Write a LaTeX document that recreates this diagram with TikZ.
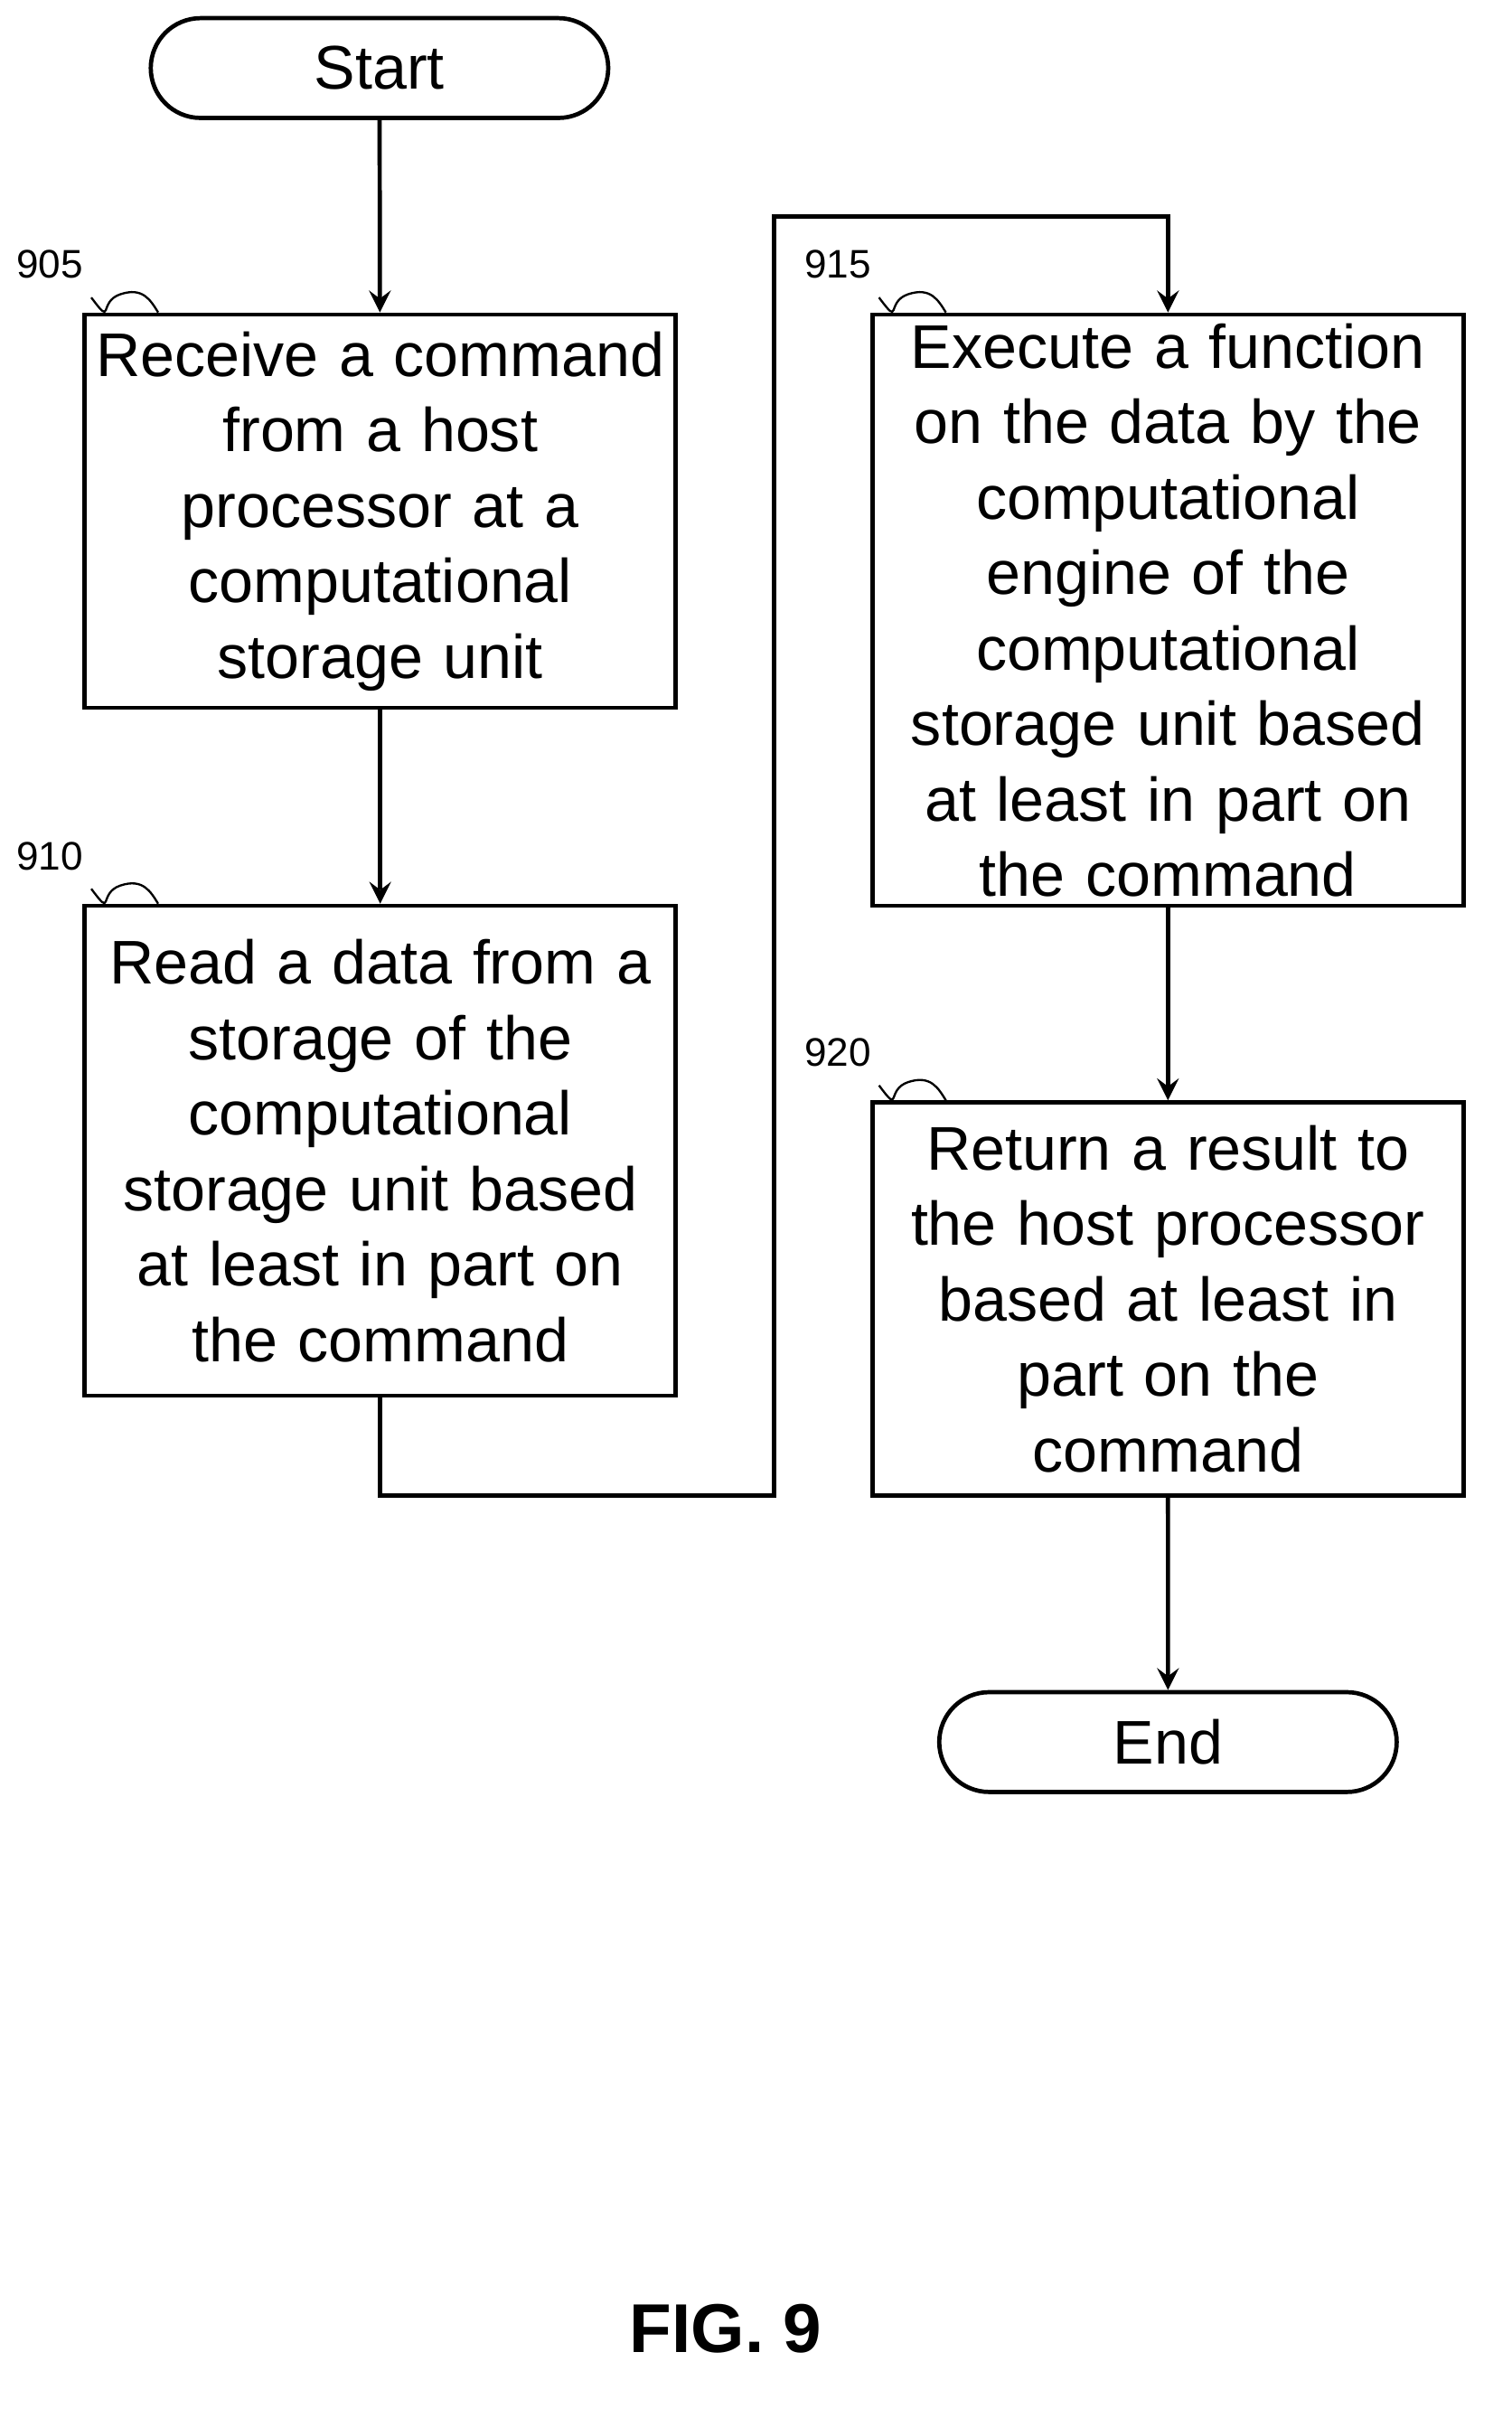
\documentclass[tikz,border=0pt]{standalone}
\usepackage{fontspec}
\setmainfont{Liberation Sans}
\usetikzlibrary{positioning}
\usetikzlibrary{arrows}
\usetikzlibrary{shapes.misc}

\begin{document}
\begin{tikzpicture}[>=stealth,font=\fontsize{11.6}{14.2}\selectfont,
    action/.style={draw,thick,minimum width=3.91cm,text width=3.8cm,align=center,inner sep=1pt},
    term/.style={draw,thick,rounded rectangle,minimum width=3.26cm,minimum height=0.66cm},
    ref/.style={font=\fontsize{7.5}{9}\selectfont}]
    \useasboundingbox (0,0) rectangle (10,-15.99);
    \node[term] (S) at (2.51,-0.45) {Start};
    \node[action,minimum height=2.6cm] (A) at (2.515,-3.38) {Receive a command\\from a host\\processor at a\\computational\\storage unit};
    \node[action,minimum height=3.24cm] (B) at (2.515,-7.61) {Read a data from a\\storage of the\\computational\\storage unit based\\at least in part on\\the command};
    \node[action,minimum height=3.91cm] (C) at (7.725,-4.035) {Execute a function\\on the data by the\\computational\\engine of the\\computational\\storage unit based\\at least in part on\\the command};
    \node[action,minimum height=2.6cm] (D) at (7.725,-8.59) {Return a result to\\the host processor\\based at least in\\part on the\\command};
    \node[term] (E) at (7.725,-11.52) {End};
    \node[font=\bfseries\fontsize{13}{16}\selectfont] (F) at (4.8,-15.4) {FIG. 9};

    % reference numerals
    \node[ref] (n905) at (0.33,-1.75) {905};
    \node[ref] (n910) at (0.33,-5.66) {910};
    \node[ref] (n915) at (5.54,-1.75) {915};
    \node[ref] (n920) at (5.54,-6.96) {920};
    \foreach \n/\b in {n905/A,n910/B,n915/C,n920/D}
        \draw ([xshift=-2pt]\n.south east) .. controls +(0.15,-0.2) and +(-0.15,-0.05) .. ([xshift=0.25cm,yshift=0.12cm]\b.north west)
              .. controls +(0.15,0.05) and +(-0.05,0.08) .. ([xshift=0.5cm]\b.north west);

    \coordinate (k1) at (2.515,-9.89);
    \coordinate (k2) at (5.12,-9.89);
    \coordinate (k3) at (5.12,-1.43);
    \coordinate (k4) at (7.725,-1.43);
    \draw[thick,->] (S) -- (A);
    \draw[thick,->] (A) -- (B);
    \draw[thick,->] (B.south) -- (k1) -- (k2) -- (k3) -- (k4) -- (C.north);
    \draw[thick,->] (C) -- (D);
    \draw[thick,->] (D) -- (E);
\end{tikzpicture}
\end{document}
